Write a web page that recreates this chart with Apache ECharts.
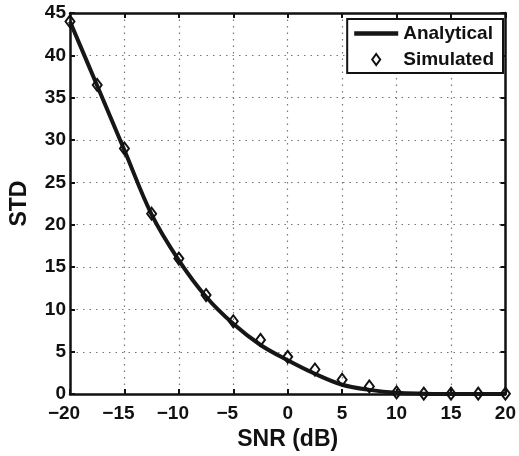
<!DOCTYPE html>
<html>
<head>
<meta charset="utf-8">
<script src="https://cdn.jsdelivr.net/npm/echarts@6/dist/echarts.min.js"></script>
<style>
html,body{margin:0;padding:0;background:#fff;}
#c{width:519px;height:456px;}
</style>
</head>
<body>
<div id="c"></div>
<script>
// SNR values (dB)
var snr = [-20, -17.5, -15, -12.5, -10, -7.5, -5, -2.5, 0, 2.5, 5, 7.5, 10, 12.5, 15, 17.5, 20];
// Analytical STD curve
var analytical = [44.0, 36.4, 28.8, 21.2, 15.8, 11.5, 8.3, 5.8, 4.0, 2.4, 1.1, 0.5, 0.15, 0.05, 0.02, 0.01, 0.0];
// Simulated STD points
var simulated = [44.0, 36.5, 29.0, 21.3, 16.0, 11.7, 8.6, 6.4, 4.4, 2.9, 1.7, 0.9, 0.2, 0.05, 0.05, 0.05, 0.05];
var xTicks = {min: -20, max: 20, interval: 5};
var yTicks = {min: 0, max: 45, interval: 5};

var FONT = '"Liberation Sans", Arial, Helvetica, sans-serif';
function xLabel(v){
  return v < 0 ? '{neg|\u2212' + Math.abs(v) + '}' : '{pos|' + v + '}';
}
function pairs(xs, ys){ return xs.map(function(x,i){ return [x, ys[i]]; }); }

var chart = echarts.init(document.getElementById('c'), null, {renderer:'canvas'});
var axisLine = {show:true, onZero:false, lineStyle:{color:'#111', width:2.5}};
var tick = {show:true, inside:true, length:5, lineStyle:{color:'#111', width:2}};
var dots = {show:true, lineStyle:{color:'#777', type:[1.5,5], width:1.2}};
var lblFont = {fontFamily:FONT, fontWeight:'bold', fontSize:19, color:'#111'};
chart.setOption({
  animation:false,
  backgroundColor:'#fff',
  grid: {left:65, right:11, top:13, bottom:61, show:false},
  legend: {
    orient:'vertical', right:16, top:19, align:'left',
    itemWidth:44, itemHeight:11, itemGap:7,
    symbolKeepAspect:true,
    padding:[5,9,4,7],
    borderColor:'#111', borderWidth:2, backgroundColor:'#fff',
    textStyle:{fontFamily:FONT, fontWeight:'bold', fontSize:19, lineHeight:19, color:'#111'},
    data:[
      {name:'Analytical', icon:'path://M0,0 L44,0 L44,4.5 L0,4.5 Z'},
      {name:'Simulated', icon:'path://M4,0 L8,5.5 L4,11 L0,5.5 Z'}
    ]
  },
  xAxis: [{
    type:'value', min:xTicks.min, max:xTicks.max, interval:xTicks.interval,
    name:'SNR (dB)', nameLocation:'middle', nameGap:22,
    nameTextStyle:{fontFamily:FONT, fontWeight:'bold', fontSize:23, color:'#111'},
    axisLine: axisLine, axisTick: tick,
    axisLabel:{fontFamily:FONT, fontWeight:'bold', fontSize:19, color:'#111', margin:10, formatter:xLabel,
      rich:{
        neg:Object.assign({padding:[0,12,0,0]}, lblFont),
        pos:Object.assign({}, lblFont)
      }},
    splitLine: dots
  },{
    type:'value', position:'top', min:xTicks.min, max:xTicks.max, interval:xTicks.interval,
    axisLine: axisLine, axisTick: tick,
    axisLabel:{show:false}, splitLine:{show:false}
  }],
  yAxis: [{
    type:'value', min:yTicks.min, max:yTicks.max, interval:yTicks.interval,
    name:'STD', nameLocation:'middle', nameGap:39,
    nameTextStyle:{fontFamily:FONT, fontWeight:'bold', fontSize:23, color:'#111'},
    axisLine: axisLine, axisTick: tick,
    axisLabel:{fontFamily:FONT, fontWeight:'bold', fontSize:19, color:'#111', margin:4},
    splitLine: dots
  },{
    type:'value', position:'right', min:yTicks.min, max:yTicks.max, interval:yTicks.interval,
    axisLine: axisLine, axisTick: tick,
    axisLabel:{show:false}, splitLine:{show:false}
  }],
  series: [{
    name:'Analytical', type:'line', smooth:0.35, symbol:'none',
    data: pairs(snr, analytical),
    lineStyle:{color:'#161616', width:4},
    itemStyle:{color:'#161616'},
    z:3
  },{
    name:'Simulated', type:'line', symbol:'diamond', symbolSize:[9,12], showSymbol:true,
    data: pairs(snr, simulated),
    lineStyle:{width:0, opacity:0},
    itemStyle:{color:'rgba(255,255,255,0)', borderColor:'#111', borderWidth:2},
    z:4
  }]
});
</script>
</body>
</html>
